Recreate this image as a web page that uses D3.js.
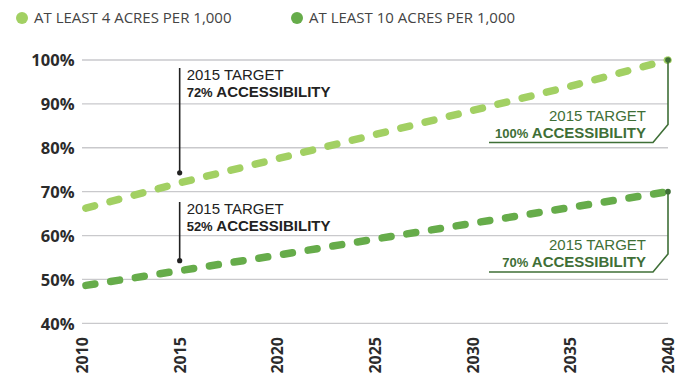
<!DOCTYPE html>
<html>
<head>
<meta charset="utf-8">
<script src="https://cdn.jsdelivr.net/npm/d3@7"></script>
<style>
  html, body { margin: 0; padding: 0; background: #fff; }
  svg { display: block; font-family: "Open Sans", "Lato", sans-serif; }
</style>
</head>
<body>
<svg id="chart" width="678" height="379"></svg>
<script>
// Park access projections, 2010–2040
const years = [2010, 2015, 2020, 2025, 2030, 2035, 2040];
const fourAcres = [66, 72, 77.5, 83, 88.5, 94, 100];
const tenAcres = [48.5, 52, 55.5, 59.2, 62.8, 66.4, 70];
const yTicks = [40, 50, 60, 70, 80, 90, 100];
const seriesNames = ["AT LEAST 4 ACRES PER 1,000", "AT LEAST 10 ACRES PER 1,000"];
const seriesColors = ["#a2d063", "#66ac4a"];

// 2015 target call-outs
const leftTargets = [
  { year: 2015, value: 72 },
  { year: 2015, value: 52 }
];
const rightTargets = [
  { year: 2040, value: 100 },
  { year: 2040, value: 70 }
];

const svg = d3.select("#chart");
const x = d3.scaleLinear().domain([2010, 2040]).range([82, 668]);
const y = d3.scaleLinear().domain([40, 100]).range([323.3, 60]);

// grid lines
svg.append("g").selectAll("line").data(yTicks).join("line")
  .attr("x1", x(2010)).attr("x2", x(2040))
  .attr("y1", d => y(d)).attr("y2", d => y(d))
  .attr("stroke", "#c9c9cc").attr("stroke-width", 1.3);

// y axis labels
const yAxis = d3.axisLeft(y).tickValues(yTicks).tickFormat(d => d + "%").tickSize(0).tickPadding(0);
svg.append("g").attr("transform", "translate(74.5,0)").call(yAxis)
  .call(g => g.select(".domain").remove())
  .call(g => g.selectAll("text")
    .attr("font-family", "'Open Sans', sans-serif")
    .attr("font-size", 16.5).attr("font-weight", 700)
    .attr("fill", "#2b2b2b").attr("dy", "0.35em"));

// x axis labels, rotated
const xAxis = d3.axisBottom(x).tickValues(years).tickFormat(d3.format("d")).tickSize(0).tickPadding(0);
svg.append("g").attr("transform", "translate(0,337)").call(xAxis)
  .call(g => g.select(".domain").remove())
  .call(g => g.selectAll("text")
    .attr("font-family", "'Open Sans', sans-serif")
    .attr("font-size", 16).attr("font-weight", 700)
    .attr("fill", "#2b2b2b")
    .attr("transform", "rotate(-90)")
    .attr("text-anchor", "end")
    .attr("x", 0).attr("y", 0).attr("dy", "0.35em"));

// dashed series lines
const line = d3.line().x((d, i) => x(years[i])).y(d => y(d));
[fourAcres, tenAcres].forEach((vals, k) => {
  svg.append("path").datum(vals)
    .attr("d", line)
    .attr("fill", "none")
    .attr("stroke", seriesColors[k])
    .attr("stroke-width", 7.5)
    .attr("stroke-linecap", "round")
    .attr("stroke-dasharray", "9,16")
    .attr("stroke-dashoffset", -4);
});

// two-line call-out text: "2015 TARGET" over "<value>% ACCESSIBILITY"
const calloutFont = "'Liberation Sans', Arial, sans-serif";
function calloutText(x0, y0, value, color, anchor) {
  svg.append("text")
    .attr("x", x0).attr("y", y0)
    .attr("font-family", calloutFont)
    .attr("font-size", 15).attr("font-weight", 400)
    .attr("fill", color).attr("text-anchor", anchor)
    .text("2015 TARGET");
  const l2 = svg.append("text")
    .attr("x", x0).attr("y", y0 + 17)
    .attr("font-family", calloutFont)
    .attr("font-size", 15).attr("font-weight", 700)
    .attr("fill", color).attr("text-anchor", anchor);
  l2.append("tspan").attr("font-size", 13).text(value + "%");
  l2.append("tspan").text(" ACCESSIBILITY");
}

// left call-outs (dark)
const dark = "#222";
const leftTop = [68, 202];
leftTargets.forEach((t, i) => {
  const cx = x(t.year);
  const dotY = y(t.value) - 10;
  svg.append("line").attr("x1", cx).attr("x2", cx)
    .attr("y1", leftTop[i]).attr("y2", dotY)
    .attr("stroke", dark).attr("stroke-width", 1.6);
  svg.append("circle").attr("cx", cx).attr("cy", dotY).attr("r", 2.6).attr("fill", dark);
  calloutText(cx + 7, leftTop[i] + 12, t.value, dark, "start");
});

// right call-outs (dark green)
const green = "#3f6f37";
const rightBase = [120.5, 250];
rightTargets.forEach((t, i) => {
  const cx = x(t.year);
  const cy = y(t.value);
  const b = rightBase[i];
  const ul = b + 22;
  svg.append("path")
    .attr("d", `M${cx},${cy} V${ul - 18} L${cx - 15},${ul} H${489}`)
    .attr("fill", "none").attr("stroke", green).attr("stroke-width", 1.6);
  svg.append("circle").attr("cx", cx).attr("cy", cy).attr("r", 2.8).attr("fill", green);
  calloutText(646, b, t.value, green, "end");
});

// legend
const legX = [22, 297];
seriesNames.forEach((name, k) => {
  svg.append("circle").attr("cx", legX[k]).attr("cy", 18).attr("r", 6).attr("fill", seriesColors[k]);
  svg.append("text").attr("x", legX[k] + 12).attr("y", 18).attr("dy", "0.35em")
    .attr("font-size", 15).attr("fill", "#444").attr("font-weight", 400)
    .text(name);
});
</script>
</body>
</html>
